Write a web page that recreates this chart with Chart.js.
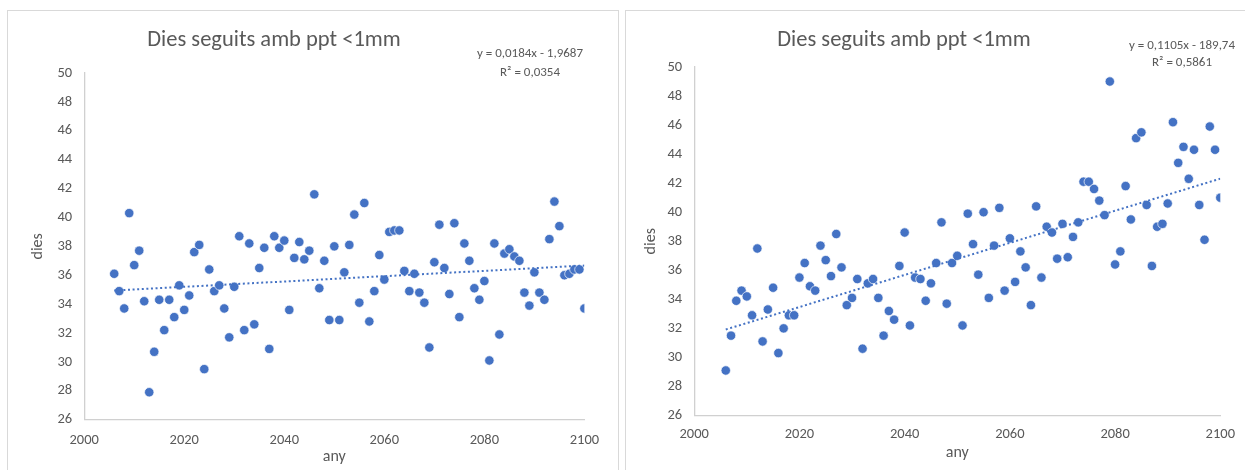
<!DOCTYPE html>
<html><head><meta charset="utf-8">
<script src="https://cdn.jsdelivr.net/npm/chart.js@4"></script>
<style>
html,body{margin:0;padding:0;background:#fff;width:1245px;height:470px;overflow:hidden;position:relative;}
.panel{position:absolute;border:1px solid #d9d9d9;box-sizing:border-box;}
#p1{left:7px;top:10px;width:612px;height:480px;}
#p2{left:625px;top:10px;width:640px;height:480px;}
canvas{position:absolute;}
#c1{left:8px;top:11px;}
#c2{left:627px;top:11px;}
</style></head><body>
<div class="panel" id="p1"></div>
<div class="panel" id="p2"></div>
<canvas id="c1" width="610" height="459"></canvas>
<canvas id="c2" width="618" height="459"></canvas>
<script>
// ---------- DATA ----------
const years = [2006,2007,2008,2009,2010,2011,2012,2013,2014,2015,
  2016,2017,2018,2019,2020,2021,2022,2023,2024,2025,
  2026,2027,2028,2029,2030,2031,2032,2033,2034,2035,
  2036,2037,2038,2039,2040,2041,2042,2043,2044,2045,
  2046,2047,2048,2049,2050,2051,2052,2053,2054,2055,
  2056,2057,2058,2059,2060,2061,2062,2063,2064,2065,
  2066,2067,2068,2069,2070,2071,2072,2073,2074,2075,
  2076,2077,2078,2079,2080,2081,2082,2083,2084,2085,
  2086,2087,2088,2089,2090,2091,2092,2093,2094,2095,
  2096,2097,2098,2099,2100];

const leftDays = [36.1,34.9,33.7,40.3,36.7,37.7,34.2,27.9,30.7,34.3,
  32.2,34.3,33.1,35.3,33.6,34.6,37.6,38.1,29.5,36.4,
  34.9,35.3,33.7,31.7,35.2,38.7,32.2,38.2,32.6,36.5,
  37.9,30.9,38.7,37.9,38.4,33.6,37.2,38.3,37.1,37.7,
  41.6,35.1,37.0,32.9,38.0,32.9,36.2,38.1,40.2,34.1,
  41.0,32.8,34.9,37.4,35.7,39.0,39.1,39.1,36.3,34.9,
  36.1,34.8,34.1,31.0,36.9,39.5,36.5,34.7,39.6,33.1,
  38.2,37.0,35.1,34.3,35.6,30.1,38.2,31.9,37.5,37.8,
  37.3,37.0,34.8,33.9,36.2,34.8,34.3,38.5,41.1,39.4,
  36.0,36.1,36.4,36.4,33.7];

const rightDays = [29.1,31.5,33.9,34.6,34.2,32.9,37.5,31.1,33.3,34.8,
  30.3,32.0,32.9,32.9,35.5,36.5,34.9,34.6,37.7,36.7,
  35.6,38.5,36.2,33.6,34.1,35.4,30.6,35.1,35.4,34.1,
  31.5,33.2,32.6,36.3,38.6,32.2,35.5,35.4,33.9,35.1,
  36.5,39.3,33.7,36.5,37.0,32.2,39.9,37.8,35.7,40.0,
  34.1,37.7,40.3,34.6,38.2,35.2,37.3,36.2,33.6,40.4,
  35.5,39.0,38.6,36.8,39.2,36.9,38.3,39.3,42.1,42.1,
  41.6,40.8,39.8,49.0,36.4,37.3,41.8,39.5,45.1,45.5,
  40.5,36.3,39.0,39.2,40.6,46.2,43.4,44.5,42.3,44.3,
  40.5,38.1,45.9,44.3,41.0];

// trend line coefficients as displayed in the charts
const leftSlope = 0.0184, leftIntercept = -1.9687, leftR2 = '0,0354';
const rightSlope = 0.1105, rightIntercept = -189.74, rightR2 = '0,5861';
const leftEq = 'y = 0,0184x - 1,9687';
const rightEq = 'y = 0,1105x - 189,74';

const chartTitle = 'Dies seguits amb ppt <1mm';
const xTitle = 'any';
const yTitle = 'dies';
const xMin = 2000, xMax = 2100, xStep = 20;
const yMin = 26, yMax = 50, yStep = 2;

// ---------- STYLE ----------
const FONT = "Carlito, Calibri, Lato, 'Open Sans', sans-serif";
const TXT = '#595959';
const AXIS = '#d0d0d0';
const BLUE = '#4472C4';

const textPlugin = {
  id: 'panelText',
  afterDraw(chart, args, o) {
    const ctx = chart.ctx;
    ctx.save();
    ctx.fillStyle = TXT;
    ctx.textAlign = 'center';
    ctx.textBaseline = 'middle';
    ctx.font = o.titleSize + 'px ' + FONT;
    ctx.fillText(o.title, o.titleX, o.titleY);
    ctx.font = o.eqSize + 'px ' + FONT;
    ctx.fillText(o.eq1, o.eqX, o.eqY1);
    ctx.fillText(o.eq2, o.eqX, o.eqY2);
    ctx.restore();
  }
};

function makeChart(id, values, slope, intercept, eq, r2, L) {
  const pts = years.map((y, i) => ({x: y, y: values[i]}));
  const x0 = years[0], x1 = years[years.length - 1];
  const trend = [{x: x0, y: slope * x0 + intercept}, {x: x1, y: slope * x1 + intercept}];
  return new Chart(document.getElementById(id), {
    type: 'scatter',
    data: {
      datasets: [
        {data: pts, backgroundColor: BLUE, borderColor: 'rgba(255,255,255,0.85)', borderWidth: 0.8,
         pointRadius: 4.7, pointHoverRadius: 4.7, order: 2},
        {type: 'line', data: trend, borderColor: BLUE, borderWidth: 2, borderDash: [2, 2.6],
         pointRadius: 0, fill: false, order: 1}
      ]
    },
    options: {
      responsive: false,
      animation: false,
      events: [],
      layout: {padding: {left: 0, right: L.padRight, top: L.padTop, bottom: 0}},
      plugins: {
        legend: {display: false},
        tooltip: {enabled: false},
        title: {display: false},
        panelText: {
          title: chartTitle, titleX: L.titleX, titleY: L.titleY, titleSize: 22.5,
          eq1: eq, eq2: 'R² = ' + r2, eqX: L.eqX, eqY1: L.eqY1, eqY2: L.eqY2, eqSize: 13
        }
      },
      scales: {
        x: {
          type: 'linear', min: xMin, max: xMax,
          grid: {display: false, drawTicks: false},
          border: {display: true, color: AXIS, width: 1.3},
          ticks: {stepSize: xStep, color: TXT, font: {family: FONT, size: 14.5}, padding: L.xTickPad, maxRotation: 0,
                  callback: v => String(v)},
          title: {display: true, text: xTitle, color: TXT, font: {family: FONT, size: 16},
                  padding: {top: 0, bottom: L.xTitlePad}},
          afterFit: s => { s.height = L.xHeight; }
        },
        y: {
          type: 'linear', min: yMin, max: yMax,
          grid: {display: false, drawTicks: false},
          border: {display: true, color: AXIS, width: 1.3},
          ticks: {stepSize: yStep, color: TXT, font: {family: FONT, size: 14.5}, padding: 12},
          title: {display: true, text: yTitle, color: TXT, font: {family: FONT, size: 16},
                  padding: {top: L.yTitlePad, bottom: 0}},
          afterFit: s => { s.width = L.yWidth; }
        }
      }
    },
    plugins: [textPlugin]
  });
}

makeChart('c1', leftDays, leftSlope, leftIntercept, leftEq, leftR2, {
  padRight: 33.6, padTop: 62, yWidth: 76.2, xHeight: 50.3, xTickPad: 11.5, xTitlePad: 3.4,
  yTitlePad: 20, titleX: 266, titleY: 29, eqX: 522, eqY1: 43, eqY2: 62
});
makeChart('c2', rightDays, rightSlope, rightIntercept, rightEq, rightR2, {
  padRight: 21.7, padTop: 56, yWidth: 67.2, xHeight: 54.5, xTickPad: 10, xTitlePad: 7.4,
  yTitlePad: 14.4, titleX: 277, titleY: 29, eqX: 555, eqY1: 35, eqY2: 52
});
</script>
</body></html>
